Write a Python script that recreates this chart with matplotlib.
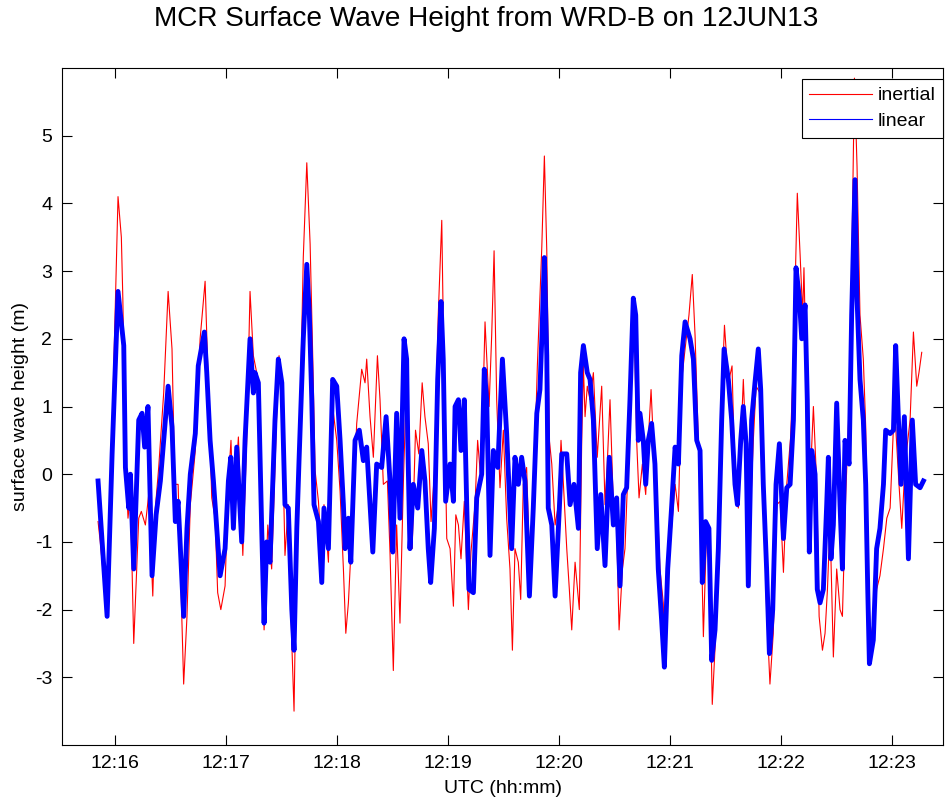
import matplotlib
matplotlib.use("Agg")
import matplotlib.pyplot as plt
from matplotlib.lines import Line2D

plt.rcParams['font.family'] = ['Liberation Sans', 'DejaVu Sans']
plt.rcParams['axes.unicode_minus'] = False

# time in seconds after 12:15:00 UTC, wave height in metres
linear_t = [50.8, 53.0, 55.7, 58.4, 61.6, 64.7, 65.6, 67.4, 68.3, 70.1, 72.8, 74.6, 76.0, 77.8,
            80.0, 82.2, 84.5, 86.3, 88.7, 90.8, 92.6, 94.1, 97.1, 98.9, 100.7, 103.4,
            105.0, 108.3, 109.6, 111.4, 113.2, 115.0, 116.8, 119.5, 121.3, 122.6, 124.0, 125.8,
            128.5, 130.3, 133.0, 134.8, 135.7, 137.5, 139.3, 140.6, 142.0, 143.8, 146.5, 148.3,
            150.2, 151.9, 153.7, 155.6, 156.8, 158.3, 159.5,
            161.8, 163.7, 165.1, 166.4, 167.6, 170.0, 171.8, 173.0, 175.4, 177.7, 179.9, 181.7,
            183.5, 184.4, 186.2, 187.5, 189.8, 192.1, 194.3, 196.1, 197.9, 199.4, 201.5, 204.2,
            206.6, 208.7, 210.2, 212.3, 214.1, 216.3, 217.7,
            218.3, 219.5, 221.3, 223.7, 225.9, 227.6, 229.4, 230.7, 232.7, 234.5, 236.3, 237.5,
            238.8, 241.2, 243.0, 243.9, 245.7, 247.1, 248.9, 250.2, 251.4, 253.8, 255.6, 258.3,
            259.7, 261.0, 262.8, 264.6, 267.0, 269.5, 271.8, 274.5,
            276.3, 278.1, 279.9, 281.7, 284.1, 286.2, 288.1, 289.8, 290.8, 292.2, 293.5, 294.3,
            296.2, 298.0, 300.3, 301.6, 304.3, 306.1, 308.2, 310.6, 311.8, 313.3, 315.4, 316.9,
            318.7, 320.8, 322.7, 325.0, 327.3, 329.5, 331.3,
            333.1, 334.9, 336.7, 338.5, 340.3, 341.6, 343.0, 343.9, 345.7, 347.0, 348.4, 350.2,
            352.0, 353.8, 355.6, 357.1, 358.9, 361.1, 362.9, 364.7, 366.5, 368.3, 371.0, 372.8,
            374.6, 376.4, 377.6, 379.4, 381.2, 382.7, 384.5, 386.3, 388.1, 389.4,
            391.7, 393.5, 395.3, 396.6, 398.4, 399.8, 401.3, 402.5, 404.3, 406.1, 407.9, 409.2,
            410.6, 412.4, 413.9, 415.7, 417.5, 419.3, 421.5, 423.3, 425.1, 426.9, 428.3, 430.1,
            431.4, 433.2, 434.4, 435.5, 436.8, 438.6, 439.8, 441.3, 443.1, 444.9,
            445.8, 447.2, 448.5, 450.3, 452.1, 453.4, 454.8, 457.0, 458.4, 460.2, 461.3, 462.9,
            464.7, 466.0, 467.1, 468.0, 470.1, 471.9, 473.7, 475.6, 476.8, 479.2, 481.0, 482.2,
            483.7, 485.1, 486.9, 489.1, 491.2, 493.0, 495.4, 497.2]
linear_h = [-0.1, -1.0, -2.1, 0.3, 2.7, 1.9, 0.1, -0.5, 0.0, -1.4, 0.8, 0.9, 0.4, 1.0,
            -1.5, -0.6, -0.1, 0.5, 1.3, 0.7, -0.7, -0.4, -2.1, -0.8, 0.0, 0.6,
            1.6, 2.1, 1.5, 0.5, -0.1, -0.8, -1.5, -1.1, -0.1, 0.25, -0.8, 0.4,
            -1.0, 0.5, 2.0, 1.2, 1.5, 1.35, -0.8, -2.2, -1.0, -1.3, 0.8, 1.7,
            1.35, -0.45, -0.5, -2.0, -2.6, -0.8, 0.2,
            2.0, 3.1, 2.35, 1.1, -0.45, -0.7, -1.6, -0.5, -1.1, 1.4, 1.3, 0.5,
            -0.45, -1.1, -0.65, -1.3, 0.5, 0.65, 0.2, 0.4, -0.45, -1.15, 0.15, 0.1,
            0.85, -0.1, -1.15, 0.9, -0.65, 2.0, 1.7,
            0.5, -1.1, -0.15, -0.5, 0.35, -0.1, -1.1, -1.6, -0.8, 1.4, 2.55, 1.7,
            -0.4, 0.15, -0.4, 1.0, 1.1, 0.35, 1.1, -0.45, -1.7, -1.75, -0.35, 0.0,
            1.55, 1.1, -1.2, 0.35, 0.1, 1.7, 0.6, -1.1,
            0.25, -0.15, 0.25, -0.1, -1.8, -0.5, 0.9, 1.25, 2.0, 3.2, 1.75, -0.5,
            -0.75, -1.8, -0.5, 0.3, 0.3, -0.45, -0.15, -0.8, 1.5, 1.9, 1.5, 1.4,
            0.8, -1.1, -0.3, -1.35, 0.25, -0.75, -0.35,
            -1.65, -0.3, -0.2, 1.1, 2.6, 2.35, 0.5, 0.9, 0.5, -0.15, 0.5, 0.75,
            0.15, -1.4, -2.15, -2.85, -1.4, -0.45, 0.4, 0.15, 1.75, 2.25, 2.0, 1.7,
            0.5, 0.35, -1.6, -0.7, -0.8, -2.75, -2.3, -1.1, 0.8, 1.85,
            1.4, 0.8, -0.15, -0.45, 0.5, 1.0, 0.45, -1.65, 0.8, 1.35, 1.85, 1.25,
            -0.15, -1.4, -2.65, -2.0, -0.15, 0.45, -0.95, -0.2, -0.15, 0.8, 3.05, 2.6,
            2.0, 2.5, 1.1, -1.15, 0.35, 0.0, -1.7, -1.9, -1.7, -0.45,
            0.25, -1.25, -0.75, 1.05, -0.45, -1.4, 0.5, 0.15, 2.35, 4.35, 2.6, 1.4,
            0.8, -0.15, -1.7, -2.8, -2.45, -1.1, -0.8, -0.15, 0.65, 0.6, 0.65, 1.9,
            0.8, -0.15, 0.85, -1.25, 0.8, -0.15, -0.2, -0.1]

inertial_t = [50.8, 52.0, 55.7, 58.4, 60.2, 61.6, 63.4, 64.2, 65.6, 67.0, 68.3, 70.1, 72.8, 74.2,
              76.4, 78.2, 80.4, 81.8, 83.6, 86.3, 88.7, 90.8, 92.3, 94.1, 97.1, 98.9, 100.7, 103.4,
              106.0, 108.7, 110.5, 112.3, 114.1, 115.5, 117.2, 119.5, 121.3, 122.7, 124.0, 126.7,
              129.1, 131.2, 133.0, 134.8, 136.6, 139.3, 140.6, 142.6, 144.7, 147.4, 148.7, 150.2,
              151.9, 153.7, 155.6, 156.8, 158.3, 160.0,
              161.8, 163.7, 165.5, 166.9, 168.2, 170.0, 171.8, 173.0, 175.4, 177.2, 179.9, 181.7,
              183.5, 184.8, 186.2, 188.0, 190.7, 193.4, 195.2, 196.1, 197.9, 199.7, 201.9, 203.3,
              205.1, 207.3, 208.7, 210.5, 212.3, 214.1, 215.9, 217.3,
              218.8, 220.7, 222.5, 224.3, 226.1, 227.6, 229.4, 230.9, 232.7, 234.8, 236.7, 238.1,
              239.4, 241.2, 243.0, 244.3, 245.7, 247.1, 248.9, 250.2, 251.1, 252.5, 254.7, 256.1,
              257.9, 260.1, 262.3, 263.7, 265.0, 266.4, 268.2, 270.0, 271.8, 273.6, 274.9,
              276.3, 278.1, 279.4, 280.8, 282.6, 284.1, 286.2, 288.4, 290.8, 292.2, 293.5, 294.9,
              296.2, 298.0, 299.8, 301.2, 302.5, 304.3, 305.7, 307.0, 308.8, 311.1, 312.4, 313.3,
              314.2, 315.4, 316.9, 318.7, 320.8, 323.2, 325.0, 326.2, 327.7, 329.5, 331.3,
              332.6, 334.4, 335.8, 338.0, 339.4, 340.7, 342.1, 343.4, 345.2, 347.0, 348.4, 349.9,
              351.7, 352.9, 354.7, 356.5, 357.4, 359.2, 361.1, 362.9, 364.7, 366.5, 368.3, 370.4,
              372.2, 373.7, 375.5, 376.9, 378.2, 380.0, 381.8, 383.0, 384.9, 386.3, 388.1,
              389.6, 391.7, 393.7, 395.3, 397.1, 399.8, 401.6, 403.4, 405.2, 406.7, 408.8, 410.6,
              412.4, 414.2, 416.0, 417.9, 419.7, 421.5, 423.3, 425.4, 426.9, 429.0, 430.5, 431.9,
              432.6, 434.1, 435.9, 437.7, 439.5, 440.8, 442.6, 444.0, 445.3,
              446.7, 448.5, 450.3, 452.1, 453.4, 455.2, 457.0, 458.4, 459.9, 461.3, 462.9, 464.7,
              466.0, 467.1, 468.3, 470.1, 471.9, 473.7, 475.6, 477.4, 479.2, 481.0, 482.2, 484.0,
              485.5, 487.3, 490.0, 491.8, 493.6, 494.8, 496.3]
inertial_h = [-0.7, -1.0, -2.1, 0.6, 2.6, 4.1, 3.5, 2.6, 0.2, -0.65, -0.3, -2.5, -0.65, -0.55,
              -0.75, -0.3, -1.8, -0.5, 0.1, 1.2, 2.7, 1.85, -0.15, -0.15, -3.1, -2.1, -0.45, 0.35,
              2.0, 2.85, 1.25, -0.35, -0.65, -1.75, -2.0, -1.65, -0.1, 0.5, -0.65, 0.55,
              -1.2, 0.5, 2.7, 1.75, 1.5, -0.8, -2.3, -0.75, -1.4, 0.85, 1.75, 1.0,
              -1.2, -0.45, -2.5, -3.5, -0.8, 0.75,
              3.2, 4.6, 3.4, 1.75, 0.05, -0.4, -1.25, -0.45, -1.3, 1.1, 0.5, -0.25,
              -1.4, -2.35, -1.9, -0.9, 0.75, 1.55, 1.35, 1.7, 0.85, 0.25, 1.75, 1.1,
              -0.15, -0.1, -1.15, -2.9, -0.75, -2.2, -0.15, 1.1,
              -0.45, -1.1, 0.65, 0.3, 1.35, 0.85, 0.45, -0.7, 0.0, 2.35, 3.75, 1.1,
              -0.95, -1.1, -1.95, -0.6, -0.75, -1.25, -0.4, -1.4, -2.0, -1.15, -0.45, 0.5,
              -0.1, 2.25, 1.0, 2.05, 3.3, 1.1, -0.2, 0.65, -0.65, -1.4, -2.6,
              -1.1, -1.3, -1.85, -0.15, 0.1, -1.2, -0.5, 1.6, 3.35, 4.7, 3.3, 0.5,
              0.15, -0.75, -0.45, 0.5, -0.15, -1.1, -1.7, -2.3, -1.3, -2.0, 0.5, 1.6,
              0.85, 1.3, 1.1, 1.5, 0.25, 1.3, -0.45, 0.15, 1.1, -0.45, -0.8,
              -2.3, -1.4, -1.1, 0.5, 2.0, 2.35, 0.5, -0.35, 0.15, -0.3, 0.5, 1.25,
              0.15, -0.15, -1.4, -1.9, -2.75, -1.4, -0.75, -0.15, -0.55, 1.4, 1.85, 2.35,
              2.95, 2.05, 0.5, -0.75, -2.4, -0.75, -1.6, -3.4, -2.35, -1.1, 1.1,
              2.2, 1.35, 1.6, -0.15, -0.5, 1.4, 0.15, -0.75, 0.5, 1.3, 1.2, -0.15,
              -2.0, -3.1, -2.35, -0.45, -0.4, -1.45, -0.15, 0.55, 1.7, 4.15, 3.25, 2.35,
              3.05, 1.1, -0.15, 1.0, -0.15, -2.1, -2.6, -2.35, -1.7,
              -0.7, -2.7, -1.4, -2.0, -2.1, -0.3, 1.0, 3.0, 5.85, 4.55, 2.35, 1.7,
              0.7, -1.4, -2.2, -2.5, -1.7, -1.5, -1.1, -0.65, -0.5, 0.7, 0.7, -0.15,
              -0.8, 0.15, 0.8, 2.1, 1.3, 1.5, 1.8]

tick_times = [60, 120, 180, 240, 300, 360, 420, 480]
tick_labels = ['12:16', '12:17', '12:18', '12:19', '12:20', '12:21', '12:22', '12:23']
y_ticks = [-3, -2, -1, 0, 1, 2, 3, 4, 5]

fig = plt.figure(figsize=(9.46, 8.01), dpi=100)
ax = fig.add_axes([62 / 946, 56 / 801, 881 / 946, 677 / 801])

ax.plot(inertial_t, inertial_h, color='red', lw=0.8)
ax.plot(linear_t, linear_h, color='blue', lw=3.5)

ax.set_xlim(31.3, 507.8)
ax.set_ylim(-4.0, 6.0)
ax.set_xticks(tick_times)
ax.set_xticklabels(tick_labels)
ax.set_yticks(y_ticks)
ax.tick_params(direction='in', length=7, width=0.8, top=True, right=True,
               labelsize=14, pad=7, colors='black')
for sp in ax.spines.values():
    sp.set_linewidth(0.8)

ax.set_xlabel('UTC (hh:mm)', fontsize=14, labelpad=6)
ax.set_ylabel('surface wave height (m)', fontsize=14, labelpad=4)
ax.set_title('MCR Surface Wave Height from WRD-B on 12JUN13', fontsize=20.2, pad=30,
             x=0.481)

handles = [Line2D([], [], color='red', lw=0.8), Line2D([], [], color='blue', lw=0.8)]
leg = ax.legend(handles, ['inertial', 'linear'], loc='upper right',
                bbox_to_anchor=(1.0, 1 - 11 / 677), borderaxespad=0, fontsize=14,
                fancybox=False, edgecolor='black', framealpha=1, handlelength=3.2,
                borderpad=0.4, labelspacing=0.4, handletextpad=0.3)
leg.get_frame().set_linewidth(0.8)

fig.savefig('out.png', dpi=100)
